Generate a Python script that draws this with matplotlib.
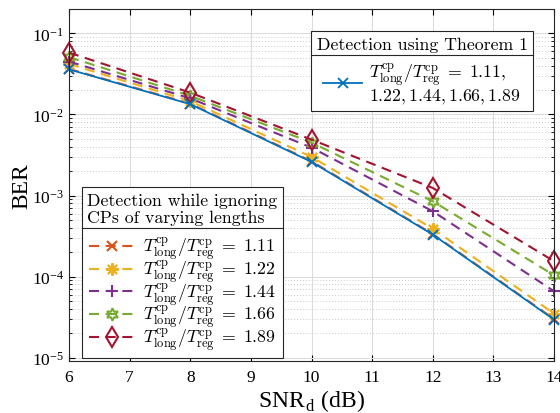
import numpy as np
import matplotlib
matplotlib.use("Agg")
import matplotlib.pyplot as plt
from matplotlib.lines import Line2D

# ---- data ----
snr = [6, 8, 10, 12, 14]
ber_theorem = [0.036, 0.0134, 0.0026, 3.3e-4, 2.95e-5]
ber_111 = [0.0365, 0.0136, 0.00265, 3.35e-4, 3.0e-5]
ber_122 = [0.042, 0.0146, 0.0030, 3.9e-4, 3.5e-5]
ber_144 = [0.045, 0.0158, 0.0039, 6.4e-4, 6.6e-5]
ber_166 = [0.051, 0.0170, 0.0045, 8.5e-4, 1.04e-4]
ber_189 = [0.058, 0.0186, 0.0049, 1.24e-3, 1.55e-4]
ratios = ["1.11", "1.22", "1.44", "1.66", "1.89"]
xticks = [6, 7, 8, 9, 10, 11, 12, 13, 14]

plt.rcParams['font.family'] = ['Liberation Serif']
plt.rcParams['mathtext.fontset'] = 'cm'
plt.rcParams['axes.unicode_minus'] = False

fig = plt.figure(figsize=(5.6, 4.14), dpi=100)
ax = fig.add_axes([69/560, 1-362/414, (554-69)/560, (362-10)/414])

colors = ['#D95319', '#EDB120', '#7E2F8E', '#77AC30', '#A2142F']
markers = ['x', (8, 2, 0), '+', (6, 1, 0), 'd']
msizes = [7, 9, 9, 9, 10.5]
series = [ber_111, ber_122, ber_144, ber_166, ber_189]

dash_handles = []
for vals, c, m, ms, r in zip(series, colors, markers, msizes, ratios):
    h, = ax.plot(snr, vals, color=c, lw=1.5, dashes=(4.8, 3.2), marker=m,
                 markersize=ms, markerfacecolor='none', markeredgecolor=c,
                 markeredgewidth=1.5, clip_on=False,
                 label=r'$T^{\rm cp}_{\rm long}/T^{\rm cp}_{\rm reg}\;=\;' + r + '$')
    dash_handles.append(h)

hb, = ax.plot(snr, ber_theorem, color='#0072BD', lw=1.3, marker='x',
              markersize=7, markeredgewidth=1.3, clip_on=False,
              label=r'$T^{\rm cp}_{\rm long}/T^{\rm cp}_{\rm reg}\;=\;1.11,$' + '\n' + r'$1.22, 1.44, 1.66, 1.89$')

ax.set_yscale('log')
ax.set_xlim(6, 14)
ax.set_ylim(9.1e-6, 0.2)
ax.set_xticks(xticks)
ax.set_xticklabels([str(t) for t in xticks])
ax.tick_params(which='both', direction='in', top=True, right=True, labelsize=12.5)
ax.tick_params(axis='x', pad=6)
ax.tick_params(which='major', length=4, width=0.8)
ax.tick_params(which='minor', length=2.2, width=0.6)
ax.grid(True, which='major', color='#DCDCDC', lw=0.8, ls='-')
ax.grid(True, which='minor', axis='y', color='#C8C8C8', lw=0.7, ls=(0, (1, 2)))
ax.set_axisbelow(True)
for s in ax.spines.values():
    s.set_linewidth(0.8)
    s.set_color('#262626')

ax.set_xlabel(r'SNR$_\mathdefault{d}$ (dB)', fontsize=17, labelpad=1)
ax.set_ylabel('BER', fontsize=17, labelpad=0)

legfont = {'family': 'cmr10', 'size': 12.8}
leg1 = ax.legend([hb], [hb.get_label()], loc='upper right',
                 bbox_to_anchor=((533-69)/485, (362-32)/352),
                 borderaxespad=0, fancybox=False, framealpha=1, edgecolor='#262626',
                 prop=legfont, title='Detection using Theorem 1',
                 title_fontproperties=legfont, handlelength=2.2, handletextpad=0.4,
                 borderpad=0.3)
leg1.get_frame().set_linewidth(0.8)
for t in leg1.get_texts():
    t.set_linespacing(0.88)
ax.add_artist(leg1)

leg2 = ax.legend(dash_handles, [h.get_label() for h in dash_handles], loc='upper left',
                 bbox_to_anchor=((82-69)/485, (362-188)/352),
                 borderaxespad=0, fancybox=False, framealpha=1, edgecolor='#262626',
                 prop=legfont, title='Detection while ignoring\nCPs of varying lengths',
                 title_fontproperties=legfont, handlelength=2.6, handletextpad=0.4,
                 labelspacing=-0.28, borderpad=0.3)
leg2.get_frame().set_linewidth(0.8)
leg2._legend_box.sep = 0.5 * 12.8

fig.canvas.draw()
renderer = fig.canvas.get_renderer()
for leg in (leg1, leg2):
    fb = leg.get_frame().get_window_extent(renderer)
    tb = leg.get_title().get_window_extent(renderer)
    y = tb.y0 - 3
    x0, x1 = fb.x0 / fig.bbox.width, fb.x1 / fig.bbox.width
    yy = y / fig.bbox.height
    fig.add_artist(Line2D([x0, x1], [yy, yy], transform=fig.transFigure,
                          color='#262626', lw=0.8, zorder=10))

fig.savefig('out.png', dpi=100)
